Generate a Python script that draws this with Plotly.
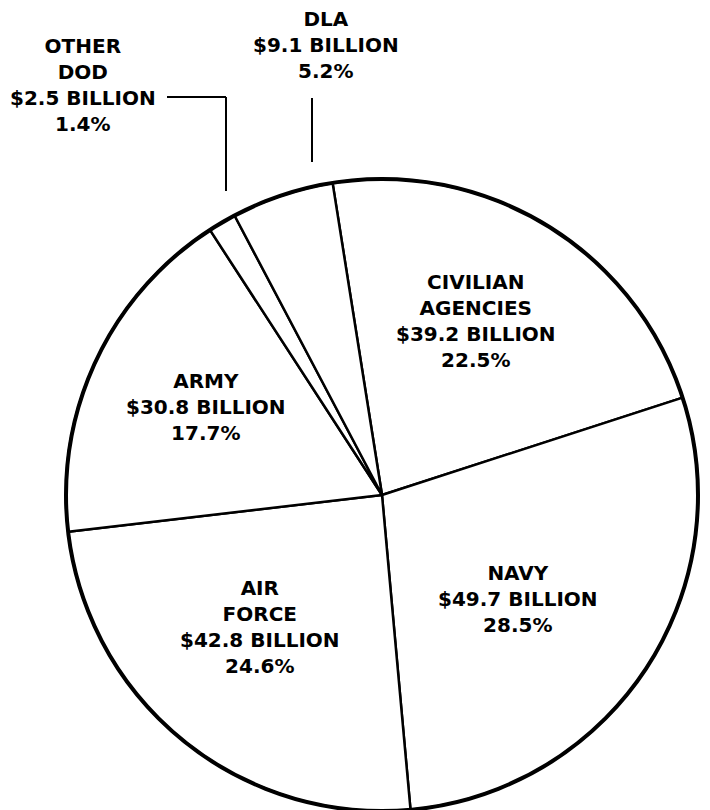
import plotly.graph_objects as go

# ---- data ----
categories = ["CIVILIAN<br>AGENCIES", "NAVY", "AIR<br>FORCE", "ARMY", "OTHER<br>DOD", "DLA"]
values_billion = [39.2, 49.7, 42.8, 30.8, 2.5, 9.1]
percent_labels = ["22.5", "28.5", "24.6", "17.7", "1.4", "5.2"]

W, H = 710, 810
OFF = 8  # page body margin compensation

# label positions (pixel centres of text blocks, page coords)
label_px = [(476, 321), (518, 599), (260, 627), (206, 407), (83, 85), (326, 45)]

def fx(px):
    return (px - OFF) / W

def fy(py):
    return 1 - (py - OFF) / H

# pie geometry in page pixels
cx, cy, r = 382, 495, 316
dom_x = [fx(cx - r), fx(cx + r)]
dom_y = [fy(cy + r), fy(cy - r)]

fig = go.Figure()
fig.add_trace(go.Pie(
    labels=[c.replace("<br>", " ") for c in categories],
    values=values_billion,
    sort=False,
    direction="clockwise",
    rotation=-9,
    textinfo="none",
    hoverinfo="skip",
    marker=dict(colors=["white"] * len(values_billion),
                line=dict(color="black", width=2.5)),
    domain=dict(x=dom_x, y=dom_y),
    showlegend=False,
))
# thicker outer rim
fig.add_trace(go.Pie(
    labels=["rim"], values=[1], sort=False,
    textinfo="none", hoverinfo="skip",
    marker=dict(colors=["rgba(0,0,0,0)"], line=dict(color="black", width=4)),
    domain=dict(x=dom_x, y=dom_y),
    showlegend=False,
))

font = dict(family="DejaVu Sans", size=20, color="black")
for name, val, pct, (px, py) in zip(categories, values_billion, percent_labels, label_px):
    fig.add_annotation(
        x=fx(px), y=fy(py), xref="paper", yref="paper",
        text=f"<b>{name}<br>${val} BILLION<br>{pct}%</b>",
        showarrow=False, font=font, align="center",
        xanchor="center", yanchor="middle", borderpad=0,
    )

# leader lines
line_style = dict(color="black", width=2)
def seg(x0, y0, x1, y1):
    fig.add_shape(type="line", xref="paper", yref="paper",
                  x0=fx(x0), y0=fy(y0), x1=fx(x1), y1=fy(y1), line=line_style)

seg(167, 97, 226, 97)
seg(226, 97, 226, 191)
seg(312, 98, 312, 162)

fig.update_layout(
    width=W, height=H,
    margin=dict(l=0, r=0, t=0, b=0),
    paper_bgcolor="white", plot_bgcolor="white",
)
fig.write_html("out.html")
